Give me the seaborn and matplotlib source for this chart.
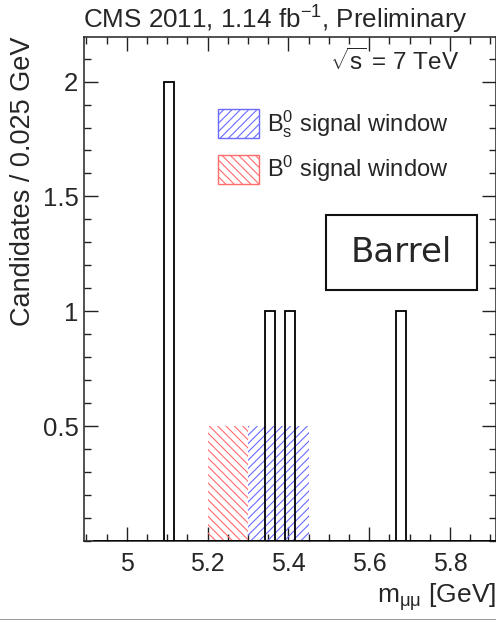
import numpy as np
import pandas as pd
import matplotlib
matplotlib.use("Agg")
import matplotlib.pyplot as plt
from matplotlib.patches import Patch, Rectangle
from matplotlib.lines import Line2D
from matplotlib.ticker import MultipleLocator
import seaborn as sns

# Dimuon candidates per 0.025 GeV bin (bin centres in GeV)
bin_centers = [5.104, 5.354, 5.404, 5.679]
bin_counts = [2, 1, 1, 1]
bin_width = 0.025
hist_range = (4.9165, 5.9165)

# Signal mass windows (GeV) drawn as hatched bands
window_names = ["B$_{\\mathregular{s}}^{\\mathregular{0}}$ signal window",
                "B$^{\\mathregular{0}}$ signal window"]
window_lo = [5.30, 5.20]
window_hi = [5.45, 5.30]
window_height = [0.5, 0.5]
window_colors = ["#6a6aff", "#ff6a6a"]
window_hatch = ["////", "\\\\\\\\"]

x_ticks = [5.0, 5.2, 5.4, 5.6, 5.8]
x_ticklabels = ["5", "5.2", "5.4", "5.6", "5.8"]
y_ticks = [0.5, 1.0, 1.5, 2.0]
y_ticklabels = ["0.5", "1", "1.5", "2"]

sns.set_theme(style="ticks")
plt.rcParams["font.family"] = ["Liberation Sans", "DejaVu Sans"]
plt.rcParams["mathtext.fontset"] = "custom"
plt.rcParams["mathtext.rm"] = "Liberation Sans"
plt.rcParams["mathtext.it"] = "Liberation Sans"
plt.rcParams["mathtext.default"] = "regular"
plt.rcParams["hatch.linewidth"] = 0.8

fig = plt.figure(figsize=(4.96, 6.2), dpi=100)
ax = fig.add_axes([84 / 496, 1 - 541 / 620, 412 / 496, 504 / 620])

# hatched signal windows
for lo, hi, h, c, ht in zip(window_lo, window_hi, window_height, window_colors, window_hatch):
    ax.bar(lo, h, width=hi - lo, align="edge", facecolor="none",
           edgecolor=c, hatch=ht, linewidth=0, zorder=1)

df = pd.DataFrame({"mass": bin_centers, "n": bin_counts})
sns.histplot(data=df, x="mass", weights="n", binwidth=bin_width, binrange=hist_range,
             fill=False, color="black", linewidth=1.3, element="bars", ax=ax, zorder=3)

ax.set_xlim(4.894, 5.914)
ax.set_ylim(0, 2.194)
ax.set_xticks(x_ticks)
ax.set_xticklabels(x_ticklabels)
ax.set_yticks(y_ticks)
ax.set_yticklabels(y_ticklabels)
ax.xaxis.set_minor_locator(MultipleLocator(0.05))
ax.yaxis.set_minor_locator(MultipleLocator(0.1))
ax.tick_params(which="both", direction="in", top=True, right=True, color="#222222", width=1.0)
ax.tick_params(which="major", length=10)
ax.tick_params(which="minor", length=5)
ax.tick_params(axis="x", which="major", labelsize=18, pad=8)
ax.tick_params(axis="y", which="major", labelsize=18.5, pad=4)
for s in ax.spines.values():
    s.set_linewidth(1.1)
    s.set_color("#222222")

ax.set_ylabel("Candidates / 0.025 GeV", fontsize=19.5, ha="right")
ax.yaxis.set_label_coords(-0.148, 1.0)
ax.yaxis.label.set_va("center")
ax.set_xlabel("m$_{\\mathregular{\u03bc\u03bc}}$ [GeV]", fontsize=19, ha="right")
ax.xaxis.set_label_coords(1.0, -0.123)
ax.xaxis.label.set_va("baseline")

ax.set_title("CMS 2011, 1.14 fb$^{\\mathregular{-1}}$, Preliminary", loc="left",
             fontsize=18.7, pad=6, x=-0.003)
ax.text(0.91, 0.978, "$\\sqrt{\\mathregular{s}}$ = 7 TeV", transform=ax.transAxes,
        ha="right", va="top", fontsize=17.5)

handles = [Patch(facecolor="none", edgecolor=c, hatch=ht, linewidth=1.0)
           for c, ht in zip(window_colors, window_hatch)]
ax.legend(handles, window_names, loc="upper left", bbox_to_anchor=(0.325, 0.859),
          frameon=False, fontsize=17, borderpad=0, handlelength=1.74,
          handleheight=1.5, handletextpad=0.35, labelspacing=0.6, borderaxespad=0)

ax.add_patch(Rectangle((0.587, 0.498), 0.367, 0.149, transform=ax.transAxes,
                       facecolor="white", edgecolor="#111111", linewidth=1.5, zorder=5))
ax.text(0.7705, 0.572, "Barrel", transform=ax.transAxes, ha="center", va="center",
        fontsize=24.5, family="DejaVu Sans", zorder=6)

fig.add_artist(Line2D([0, 1], [0.5 / 620, 0.5 / 620], transform=fig.transFigure,
                      color="#888888", linewidth=1.2))

fig.savefig("out.png", dpi=100)
